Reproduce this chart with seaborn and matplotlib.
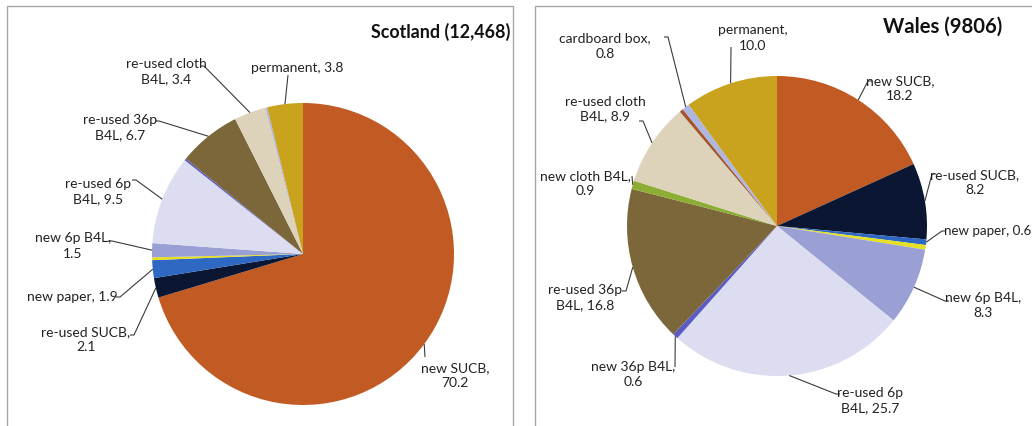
import matplotlib
matplotlib.use("Agg")
import matplotlib.pyplot as plt
from matplotlib.patches import Rectangle
import numpy as np
import seaborn as sns

# ---------------- data ----------------
categories = ["new SUCB", "re-used SUCB", "new paper", "re-used paper",
              "new 6p B4L", "re-used 6p B4L", "new 36p B4L", "re-used 36p B4L",
              "new cloth B4L", "re-used cloth B4L", "other", "cardboard box",
              "permanent"]
scotland_values = [70.2, 2.1, 1.9, 0.3, 1.5, 9.5, 0.2, 6.7, 0.0, 3.4, 0.0, 0.2, 3.8]
wales_values = [18.2, 8.2, 0.6, 0.5, 8.3, 25.7, 0.6, 16.8, 0.9, 8.9, 0.4, 0.8, 10.0]
scotland_title = "Scotland (12,468)"
wales_title = "Wales (9806)"

# ---------------- style ----------------
colors = ["#C25A24", "#0A1632", "#2F68C2", "#E6E022",
          "#9AA0D4", "#DCDDF0", "#5A5CC4", "#7B6739",
          "#8DAE34", "#DDD3BA", "#A4552A", "#AEB6E2",
          "#C9A21E"]

sns.set_theme(style="white")
plt.rcParams["font.family"] = ["Lato", "DejaVu Sans"]

W, H = 1032, 427
fig = plt.figure(figsize=(W / 100, H / 100), dpi=100)
ax = fig.add_axes([0, 0, 1, 1])

# label layout: how the text wraps, text anchor, leader end, tick direction
# modes: "one" -> "name, v"; "name" -> "name,\nv"; "split" -> "first\nlast, v"
scot_layout = {
    "permanent":         ("one",   (297, 68),  (288, 76),  0),
    "re-used cloth B4L": ("split", (166, 72),  (204, 67),  -1),
    "re-used 36p B4L":   ("split", (120, 128), (159, 122), -1),
    "re-used 6p B4L":    ("split", (98, 192),  (136, 181), -1),
    "new 6p B4L":        ("name",  (73, 246),  (112, 242), -1),
    "new paper":         ("one",   (72, 297),  (120, 298), -1),
    "re-used SUCB":      ("name",  (86, 340),  (134, 336), -1),
    "new SUCB":          ("name",  (455, 376), (425, 358), 0),
}
wales_layout = {
    "new SUCB":          ("name",  (900, 89),  (868, 82),  1),
    "re-used SUCB":      ("name",  (975, 183), (932, 175), 1),
    "new paper":         ("left",  (944, 231), (942, 232), 1),
    "new 6p B4L":        ("name",  (983, 306), (945, 302), 1),
    "re-used 6p B4L":    ("split", (870, 401), (836, 395), 1),
    "new 36p B4L":       ("name",  (633, 375), (675, 368), 0),
    "re-used 36p B4L":   ("split", (585, 298), (626, 292), -1),
    "new cloth B4L":     ("name",  (585, 184), (632, 177), 0),
    "re-used cloth B4L": ("split", (605, 109), (643, 122), -1),
    "cardboard box":     ("name",  (605, 46),  (668, 38),  -1),
    "permanent":         ("name",  (753, 38),  (731, 48),  0),
}


def label_text(name, v, mode):
    vs = f"{v:.1f}"
    if mode in ("one", "left"):
        return f"{name}, {vs}"
    if mode == "name":
        return f"{name},\n{vs}"
    first, last = name.rsplit(" ", 1)
    return f"{first}\n{last}, {vs}"


def draw_panel(values, center, radius, layout, title, title_xy, title_size):
    wedges, _ = ax.pie(values, colors=colors, startangle=-90, counterclock=True,
                       center=center, radius=radius,
                       wedgeprops=dict(linewidth=0))
    for w, name, v in zip(wedges, categories, values):
        if name not in layout:
            continue
        mode, txy, lend, tick = layout[name]
        mid = np.deg2rad((w.theta1 + w.theta2) / 2)
        ex = center[0] + radius * np.cos(mid)
        ey = center[1] + radius * np.sin(mid)
        xs = [ex, lend[0]]
        ys = [ey, lend[1]]
        if tick:
            xs.append(lend[0] + 4 * tick)
            ys.append(lend[1])
        ax.plot(xs, ys, color="#3a3a3a", lw=0.8, solid_capstyle="butt")
        ha = "left" if mode == "left" else "center"
        fs = 9.6 if mode == "left" else 10
        ax.text(txy[0], txy[1], label_text(name, v, mode), ha=ha, va="center",
                fontsize=fs, color="#222222", linespacing=1.3, multialignment="center")
    ax.text(title_xy[0], title_xy[1], title, ha="right", va="center",
            fontsize=title_size, fontweight="bold", color="#111111")


draw_panel(scotland_values, (303, 255), 151, scot_layout, scotland_title, (510, 32), 12.9)
draw_panel(wales_values, (777, 227), 150, wales_layout, wales_title, (1002, 27), 14.6)

# panel frames
ax.add_patch(Rectangle((7, 7), 506, 440, fill=False, ec="#a8a8a8", lw=1.0))
ax.add_patch(Rectangle((535, 7), 520, 440, fill=False, ec="#a8a8a8", lw=1.0))

ax.set_xlim(0, W)
ax.set_ylim(H, 0)
ax.set_aspect("equal")
ax.axis("off")

fig.savefig("out.png", dpi=100, facecolor="white")
